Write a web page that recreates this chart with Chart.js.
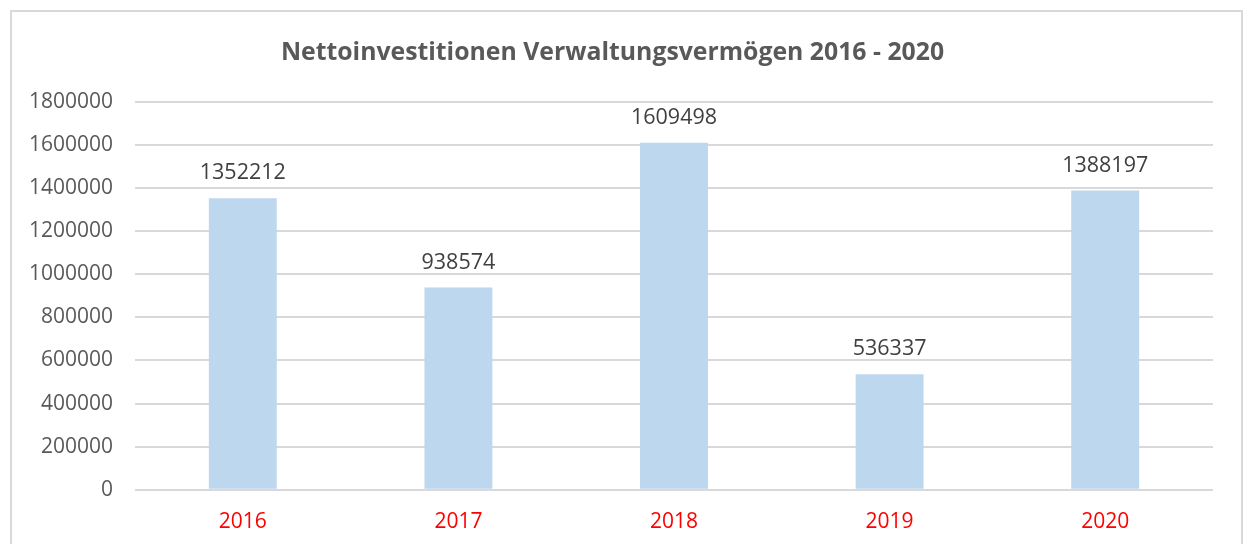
<!DOCTYPE html>
<html lang="de">
<head>
<meta charset="UTF-8">
<title>Nettoinvestitionen</title>
<script src="https://cdn.jsdelivr.net/npm/chart.js"></script>
<style>
    body { margin: 0; background: #fff; }
    #box {
        position: absolute; left: 10px; top: 10px;
        width: 1229px; height: 540px;
        border: 2px solid #d9d9d9; background: #fff;
    }
</style>
</head>
<body>
<div id="box"><canvas id="chart" width="1229" height="540"></canvas></div>
<script>
    const years = ['2016', '2017', '2018', '2019', '2020'];
    const values = [1352212, 938574, 1609498, 536337, 1388197];
    const yTicks = [0, 200000, 400000, 600000, 800000, 1000000, 1200000, 1400000, 1600000, 1800000];

    const font = "'Open Sans', 'Liberation Sans', sans-serif";

    // value labels above each bar
    const valueLabels = {
        id: 'valueLabels',
        afterDatasetsDraw(chart) {
            const ctx = chart.ctx;
            const meta = chart.getDatasetMeta(0);
            ctx.save();
            ctx.font = '21.5px ' + font;
            ctx.fillStyle = '#404040';
            ctx.textAlign = 'center';
            ctx.textBaseline = 'middle';
            meta.data.forEach((bar, i) => {
                ctx.fillText(values[i], bar.x, bar.y - 25);
            });
            ctx.restore();
        }
    };

    new Chart(document.getElementById('chart'), {
        type: 'bar',
        data: {
            labels: years,
            datasets: [{
                data: values,
                backgroundColor: '#BDD7EE',
                barPercentage: 1,
                categoryPercentage: 0.315
            }]
        },
        options: {
            responsive: false,
            animation: false,
            layout: { padding: { left: 0, right: 28, top: 0, bottom: 5 } },
            plugins: {
                legend: { display: false },
                tooltip: { enabled: false },
                title: {
                    display: true,
                    text: 'Nettoinvestitionen Verwaltungsvermögen 2016 - 2020',
                    color: '#595959',
                    font: { family: font, size: 24.8, weight: 'bold' },
                    padding: { top: 26, bottom: 34 }
                }
            },
            scales: {
                x: {
                    grid: { display: false },
                    border: { display: false },
                    ticks: {
                        color: '#FF0000',
                        font: { family: font, size: 21 },
                        padding: 12
                    }
                },
                y: {
                    min: 0,
                    max: 1800000,
                    afterBuildTicks(scale) {
                        scale.ticks = yTicks.map(v => ({ value: v }));
                    },
                    afterFit(scale) { scale.width = 123; },
                    grid: { color: '#d9d9d9', lineWidth: 2, drawTicks: false },
                    border: { display: false },
                    ticks: {
                        color: '#595959',
                        font: { family: font, size: 21 },
                        padding: 22,
                        callback: v => String(v)
                    }
                }
            }
        },
        plugins: [valueLabels]
    });
</script>
</body>
</html>
